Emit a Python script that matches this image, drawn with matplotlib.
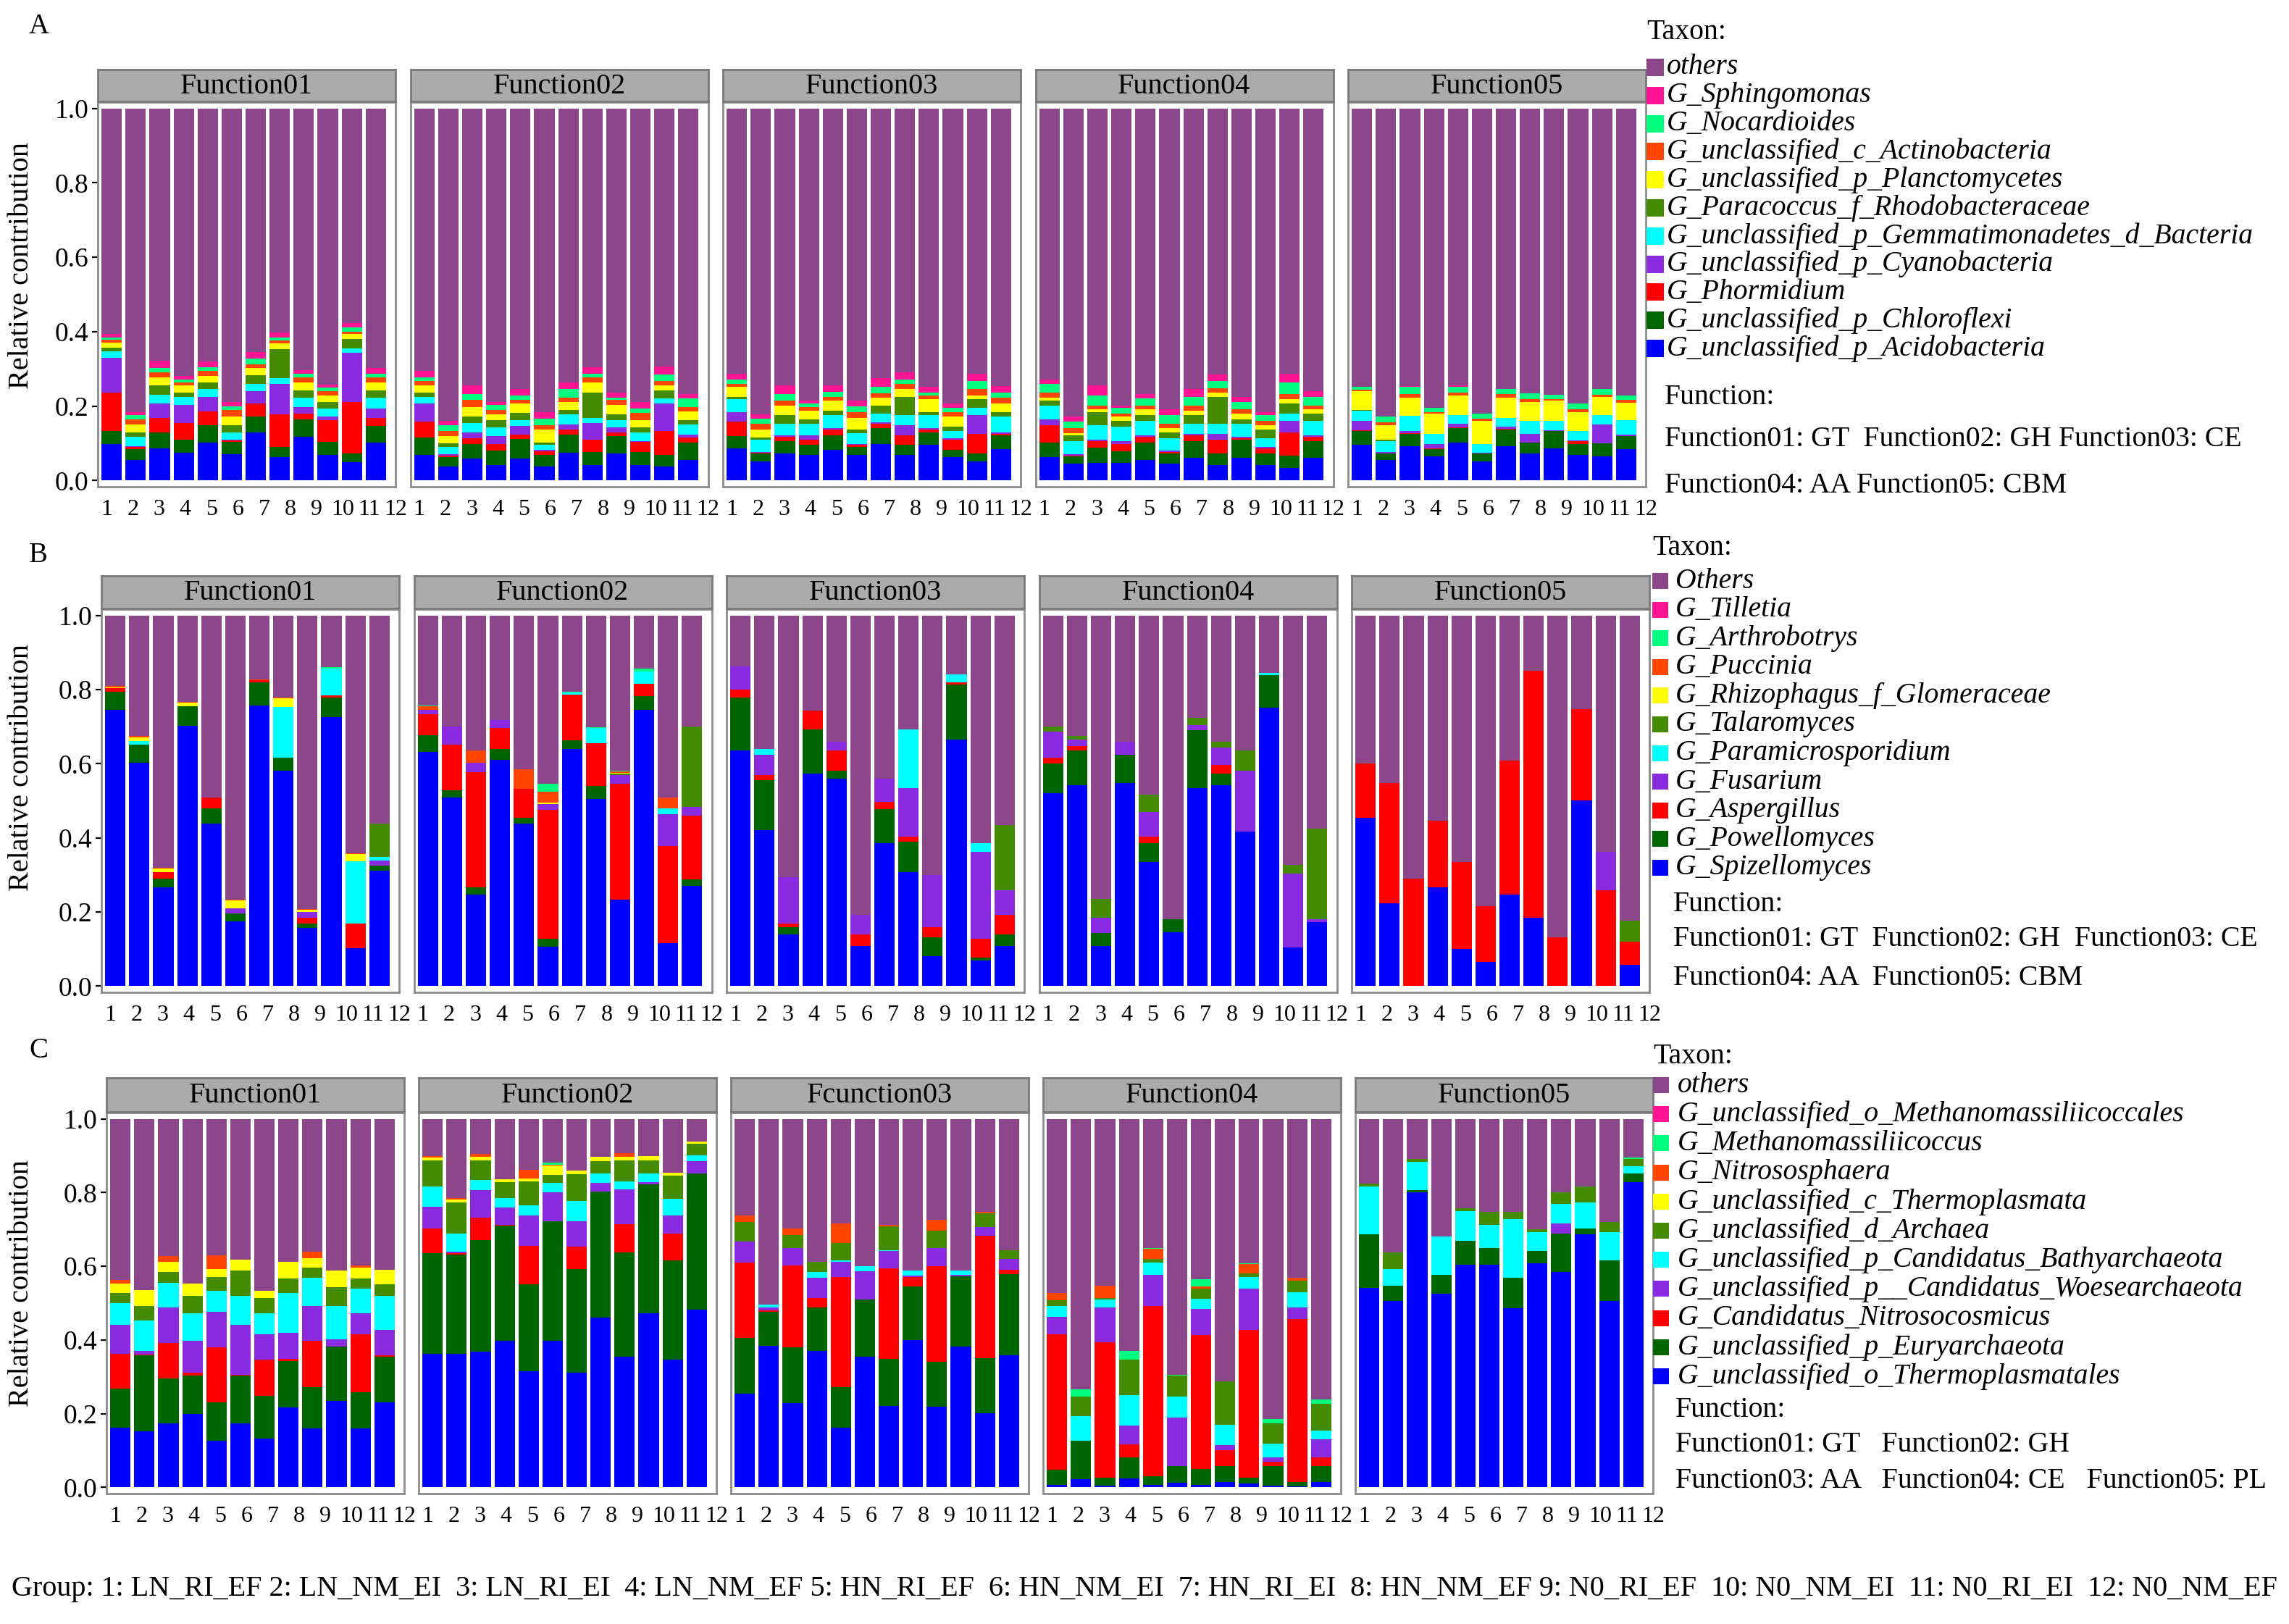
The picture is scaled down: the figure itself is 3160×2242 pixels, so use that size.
import matplotlib
matplotlib.use('Agg')
import matplotlib.pyplot as plt
from matplotlib.patches import Rectangle
import numpy as np

plt.rcParams['font.family'] = ['Liberation Serif', 'DejaVu Serif']

W, H, DPI = 3160, 2242, 200

GROUPS = [str(i) for i in range(1, 13)]

# stacking order bottom -> top (others on top)
COLORS = ['#0000FF', '#006400', '#FF0000', '#8A2BE2', '#00FFFF',
          '#458B00', '#FFFF00', '#FF4500', '#00FF7F', '#FF1493']
OTHERS_COLOR = '#8B4789'

TAXA_A = ['G_unclassified_p_Acidobacteria', 'G_unclassified_p_Chloroflexi', 'G_Phormidium',
          'G_unclassified_p_Cyanobacteria', 'G_unclassified_p_Gemmatimonadetes_d_Bacteria',
          'G_Paracoccus_f_Rhodobacteraceae', 'G_unclassified_p_Planctomycetes',
          'G_unclassified_c_Actinobacteria', 'G_Nocardioides', 'G_Sphingomonas']
OTHERS_A = 'others'
TAXA_B = ['G_Spizellomyces', 'G_Powellomyces', 'G_Aspergillus', 'G_Fusarium',
          'G_Paramicrosporidium', 'G_Talaromyces', 'G_Rhizophagus_f_Glomeraceae',
          'G_Puccinia', 'G_Arthrobotrys', 'G_Tilletia']
OTHERS_B = 'Others'
TAXA_C = ['G_unclassified_o_Thermoplasmatales', 'G_unclassified_p_Euryarchaeota',
          'G_Candidatus_Nitrosocosmicus', 'G_unclassified_p__Candidatus_Woesearchaeota',
          'G_unclassified_p_Candidatus_Bathyarchaeota', 'G_unclassified_d_Archaea',
          'G_unclassified_c_Thermoplasmata', 'G_Nitrososphaera', 'G_Methanomassiliicoccus',
          'G_unclassified_o_Methanomassiliicoccales']
OTHERS_C = 'others'

FACETS_A = ['Function01', 'Function02', 'Function03', 'Function04', 'Function05']
FACETS_B = ['Function01', 'Function02', 'Function03', 'Function04', 'Function05']
FACETS_C = ['Function01', 'Function02', 'Fcunction03', 'Function04', 'Function05']

FUNC_A = ['Function01: GT  Function02: GH Function03: CE', 'Function04: AA Function05: CBM']
FUNC_B = ['Function01: GT  Function02: GH  Function03: CE', 'Function04: AA  Function05: CBM']
FUNC_C = ['Function01: GT   Function02: GH', 'Function03: AA   Function04: CE   Function05: PL']

GROUP_TEXT = ('Group: 1: LN_RI_EF 2: LN_NM_EI  3: LN_RI_EI  4: LN_NM_EF 5: HN_RI_EF  '
              '6: HN_NM_EI  7: HN_RI_EI  8: HN_NM_EF 9: N0_RI_EF  10: N0_NM_EI  '
              '11: N0_RI_EI  12: N0_NM_EF')

# rows = groups 1..12, columns = taxa in stacking order (bottom -> top); remainder = others
A_F01 = [[.098, .035, .104, .093, .018, .009, .013, .009, .006, .009],
         [.055, .030, .005, .003, .025, .012, .020, .015, .011, .008],
         [.087, .042, .039, .039, .024, .024, .022, .013, .013, .019],
         [.075, .035, .045, .048, .021, .013, .018, .008, .009, .009],
         [.101, .047, .037, .039, .022, .017, .018, .013, .010, .016],
         [.070, .033, .004, .003, .019, .019, .024, .018, .010, .011],
         [.129, .043, .035, .033, .019, .024, .020, .010, .014, .019],
         [.063, .027, .087, .082, .016, .078, .015, .009, .008, .013],
         [.118, .047, .014, .018, .026, .019, .021, .015, .009, .009],
         [.068, .035, .060, .009, .022, .017, .018, .011, .010, .007],
         [.049, .023, .139, .133, .011, .026, .013, .006, .011, .012],
         [.101, .045, .022, .026, .029, .019, .021, .015, .009, .016]]
A_F02 = [[.068, .048, .043, .048, .017, .013, .018, .013, .010, .016],
         [.037, .026, .003, .004, .020, .010, .020, .013, .015, .013],
         [.059, .039, .015, .016, .026, .017, .025, .019, .017, .022],
         [.042, .039, .017, .022, .022, .021, .014, .013, .013, .008],
         [.059, .052, .013, .022, .017, .018, .026, .009, .013, .017],
         [.037, .031, .010, .004, .013, .006, .035, .013, .017, .017],
         [.075, .049, .013, .013, .027, .013, .021, .012, .023, .017],
         [.042, .035, .033, .045, .013, .069, .026, .014, .010, .017],
         [.072, .048, .010, .012, .021, .014, .026, .013, .007, .014],
         [.042, .035, .026, .003, .023, .013, .021, .018, .013, .017],
         [.037, .031, .065, .074, .013, .022, .013, .013, .017, .022],
         [.055, .046, .015, .008, .026, .013, .022, .012, .023, .013]]
A_F03 = [[.087, .033, .038, .025, .035, .007, .027, .008, .012, .015],
         [.052, .020, .002, .002, .034, .006, .021, .015, .015, .011],
         [.072, .034, .012, .003, .031, .023, .027, .012, .019, .023],
         [.068, .027, .015, .012, .030, .012, .023, .011, .008, .008],
         [.082, .040, .015, .003, .035, .012, .027, .011, .013, .018],
         [.068, .023, .004, .003, .030, .008, .032, .015, .016, .015],
         [.098, .043, .011, .004, .023, .023, .020, .013, .017, .023],
         [.068, .027, .027, .026, .027, .050, .020, .015, .012, .019],
         [.095, .034, .008, .004, .034, .008, .035, .011, .008, .015],
         [.062, .021, .027, .004, .019, .012, .027, .011, .012, .011],
         [.052, .020, .053, .050, .020, .023, .011, .016, .023, .019],
         [.085, .037, .004, .004, .042, .011, .023, .016, .015, .017]]
A_F04 = [[.062, .040, .046, .016, .038, .012, .008, .015, .023, .012],
         [.045, .019, .003, .003, .035, .016, .007, .013, .018, .013],
         [.048, .041, .017, .004, .038, .035, .008, .011, .027, .026],
         [.048, .031, .019, .008, .039, .015, .012, .007, .016, .007],
         [.056, .046, .016, .004, .038, .015, .016, .011, .019, .012],
         [.045, .027, .004, .004, .034, .015, .012, .011, .023, .016],
         [.060, .046, .016, .004, .026, .023, .012, .015, .023, .020],
         [.041, .031, .038, .015, .027, .073, .012, .011, .020, .017],
         [.060, .050, .004, .004, .034, .012, .015, .012, .019, .015],
         [.041, .031, .015, .004, .023, .023, .011, .012, .015, .008],
         [.033, .033, .063, .031, .019, .027, .012, .015, .031, .023],
         [.060, .046, .012, .004, .038, .019, .012, .011, .023, .016]]
A_F05 = [[.095, .038, .002, .025, .027, .003, .050, .004, .008, .000],
         [.056, .016, .001, .003, .030, .003, .039, .008, .016, .000],
         [.092, .033, .002, .006, .040, .000, .050, .010, .018, .003],
         [.064, .021, .002, .011, .027, .000, .054, .004, .012, .000],
         [.102, .039, .002, .009, .023, .000, .054, .008, .015, .003],
         [.052, .020, .000, .002, .024, .000, .062, .007, .012, .000],
         [.092, .045, .002, .006, .023, .000, .054, .011, .012, .000],
         [.072, .030, .000, .023, .035, .000, .050, .008, .017, .000],
         [.087, .046, .000, .002, .025, .000, .054, .004, .013, .000],
         [.068, .030, .008, .002, .025, .000, .050, .009, .014, .000],
         [.065, .035, .000, .050, .025, .000, .050, .006, .015, .000],
         [.085, .035, .000, .003, .040, .000, .045, .008, .013, .000]]

B_F01 = [[.746, .049, .008, 0, 0, 0, .002, .004, 0, 0],
         [.602, .050, 0, 0, .010, 0, .010, .002, 0, 0],
         [.266, .023, .018, 0, 0, 0, .011, .002, 0, 0],
         [.702, .054, 0, 0, 0, 0, .008, .002, 0, 0],
         [.439, .041, .028, 0, 0, 0, 0, 0, 0, 0],
         [.175, .022, 0, .012, 0, 0, .023, .002, 0, 0],
         [.758, .062, .005, 0, 0, 0, 0, .002, 0, 0],
         [.582, .034, 0, 0, .138, 0, .022, .002, 0, 0],
         [.156, .012, .016, .016, 0, 0, .006, .002, 0, 0],
         [.725, .054, .005, 0, .073, 0, 0, 0, .003, 0],
         [.102, 0, .066, 0, .168, 0, .021, .001, 0, 0],
         [.311, .014, 0, .014, .009, .091, 0, 0, 0, 0]]
B_F02 = [[.631, .045, .058, .012, 0, 0, 0, .009, .003, 0],
         [.508, .021, .123, .049, 0, 0, 0, 0, 0, 0],
         [.246, .020, .312, .024, 0, 0, 0, .033, 0, 0],
         [.611, .028, .058, .020, 0, 0, 0, 0, 0, 0],
         [.439, .016, .078, 0, 0, 0, 0, .053, 0, 0],
         [.107, .020, .348, .017, 0, 0, .004, .029, .020, 0],
         [.639, .025, .123, 0, .006, 0, 0, 0, .002, 0],
         [.504, .037, .115, 0, .041, 0, 0, 0, .002, 0],
         [.234, 0, .311, .025, 0, .003, .003, .003, .003, 0],
         [.746, .037, .033, 0, .032, 0, 0, 0, .008, 0],
         [.115, 0, .262, .086, .017, 0, 0, .028, 0, 0],
         [.270, .017, .172, .025, 0, .217, 0, 0, 0, 0]]
B_F03 = [[.636, .142, .023, .062, 0, 0, 0, 0, 0, 0],
         [.420, .135, .015, .054, .015, 0, 0, 0, 0, 0],
         [.139, .019, .011, .124, 0, 0, 0, 0, 0, 0],
         [.574, .119, .050, 0, 0, 0, 0, 0, 0, 0],
         [.559, .023, .054, .023, 0, 0, 0, 0, 0, 0],
         [.108, 0, .031, .054, 0, 0, 0, 0, 0, 0],
         [.385, .093, .019, .062, 0, 0, 0, 0, 0, 0],
         [.308, .081, .015, .131, .158, 0, 0, 0, 0, 0],
         [.081, .050, .027, .142, 0, 0, 0, 0, 0, 0],
         [.666, .147, .007, 0, .021, 0, 0, 0, 0, 0],
         [.069, .008, .050, .235, .023, 0, 0, 0, 0, 0],
         [.108, .031, .054, .065, 0, .177, 0, 0, 0, 0]]
B_F04 = [[.520, .081, .015, .070, 0, .015, 0, 0, 0, 0],
         [.543, .093, .011, .019, 0, .008, 0, 0, 0, 0],
         [.108, .035, 0, .042, 0, .050, 0, 0, 0, 0],
         [.547, .077, 0, .035, 0, 0, 0, 0, 0, 0],
         [.335, .050, .019, .066, 0, .046, 0, 0, 0, 0],
         [.146, .035, 0, 0, 0, 0, 0, 0, 0, 0],
         [.535, .155, 0, .015, 0, .019, 0, 0, 0, 0],
         [.543, .031, .023, .046, 0, .016, 0, 0, 0, 0],
         [.416, 0, 0, .166, 0, .054, 0, 0, 0, 0],
         [.751, .089, 0, 0, .005, 0, 0, 0, 0, 0],
         [.104, 0, 0, .200, 0, .023, 0, 0, 0, 0],
         [.173, 0, 0, .008, 0, .243, 0, 0, 0, 0]]
B_F05 = [[.455, 0, .146, 0, 0, 0, 0, 0, 0, 0],
         [.223, 0, .324, 0, 0, 0, 0, 0, 0, 0],
         [0, 0, .289, 0, 0, 0, 0, 0, 0, 0],
         [.266, 0, .181, 0, 0, 0, 0, 0, 0, 0],
         [.100, 0, .235, 0, 0, 0, 0, 0, 0, 0],
         [.065, 0, .151, 0, 0, 0, 0, 0, 0, 0],
         [.247, 0, .362, 0, 0, 0, 0, 0, 0, 0],
         [.185, 0, .666, 0, 0, 0, 0, 0, 0, 0],
         [0, 0, .131, 0, 0, 0, 0, 0, 0, 0],
         [.501, 0, .246, 0, 0, 0, 0, 0, 0, 0],
         [0, 0, .258, .104, 0, 0, 0, 0, 0, 0],
         [.058, 0, .061, 0, 0, .058, 0, 0, 0, 0]]

C_F01 = [[.161, .108, .094, .079, .058, .027, .027, .008, 0, 0],
         [.153, .206, .002, .010, .081, .041, .042, 0, 0, 0],
         [.173, .122, .096, .097, .068, .028, .029, .014, 0, 0],
         [.199, .104, .009, .085, .076, .047, .034, 0, 0, 0],
         [.127, .104, .149, .097, .056, .038, .021, .038, 0, 0],
         [.173, .130, .002, .137, .078, .068, .030, 0, 0, 0],
         [.133, .115, .098, .070, .057, .040, .020, 0, 0, 0],
         [.216, .126, .006, .072, .107, .040, .045, 0, 0, 0],
         [.159, .113, .126, .095, .076, .027, .026, .017, 0, 0],
         [.235, .147, 0, .019, .092, .051, .044, 0, 0, 0],
         [.159, .099, .158, .057, .066, .028, .029, .007, 0, 0],
         [.231, .123, .005, .069, .092, .032, .038, 0, 0, 0]]
C_F02 = [[.363, .272, .068, .059, .054, .071, .008, .005, 0, 0],
         [.363, .269, .003, .005, .049, .085, .008, .003, 0, 0],
         [.369, .302, .060, .076, .027, .053, .011, .006, 0, 0],
         [.398, .313, .001, .048, .025, .043, .008, 0, 0, 0],
         [.316, .236, .104, .081, .029, .064, .009, .023, 0, 0],
         [.398, .324, 0, .078, .026, .021, .026, .002, .006, 0],
         [.312, .280, .062, .068, .055, .073, .010, 0, 0, 0],
         [.460, .342, 0, .024, .025, .034, .013, 0, 0, 0],
         [.354, .283, .077, .095, .021, .057, .011, .009, 0, 0],
         [.473, .349, 0, .006, .024, .036, .011, 0, 0, 0],
         [.346, .269, .073, .049, .046, .062, .008, 0, 0, 0],
         [.482, .369, 0, .034, .017, .030, .006, 0, 0, 0]]
C_F03 = [[.254, .151, .206, .056, 0, .054, 0, .016, 0, 0],
         [.385, .092, .003, .008, .009, 0, 0, 0, 0, 0],
         [.228, .153, .222, .046, 0, .036, 0, .017, 0, 0],
         [.370, .119, .024, .056, .016, .028, 0, 0, 0, 0],
         [.162, .109, .300, .042, .002, .048, 0, .054, 0, 0],
         [.354, .155, 0, .078, .014, 0, 0, 0, 0, 0],
         [.220, .128, .247, .046, .003, .065, 0, .003, 0, 0],
         [.399, .146, .026, .004, .014, 0, 0, 0, 0, 0],
         [.218, .122, .261, .048, 0, .048, 0, .029, 0, 0],
         [.383, .190, 0, .004, .012, 0, 0, 0, 0, 0],
         [.202, .149, .332, .024, 0, .037, 0, .003, 0, 0],
         [.359, .220, .012, .028, 0, .024, 0, 0, 0, 0]]
C_F04 = [[.006, .042, .367, .048, .030, .015, 0, .019, 0, 0],
         [.022, .104, 0, 0, .068, .052, 0, 0, .020, 0],
         [.005, .021, .367, .096, .020, .005, 0, .033, 0, 0],
         [.024, .058, .035, .051, .082, .096, 0, 0, .024, 0],
         [.006, .024, .463, .084, .034, .008, 0, .028, .002, 0],
         [.013, .045, 0, .132, .057, .056, 0, 0, .003, 0],
         [.006, .044, .363, .071, .027, .029, 0, .005, .020, 0],
         [.014, .044, .043, .013, .056, .117, 0, 0, 0, 0],
         [.010, .016, .402, .112, .031, .010, 0, .025, .003, 0],
         [.005, .053, .012, .012, .036, .056, 0, 0, .012, 0],
         [.003, .011, .443, .032, .040, .032, 0, .008, 0, 0],
         [.014, .044, .024, .048, .024, .072, 0, 0, .012, 0]]
C_F05 = [[.541, .145, 0, 0, .130, .008, 0, 0, 0, 0],
         [.505, .042, 0, 0, .046, .044, 0, 0, 0, 0],
         [.800, .006, 0, 0, .078, .008, 0, 0, 0, 0],
         [.525, .052, 0, 0, .104, 0, 0, 0, 0, 0],
         [.605, .064, 0, 0, .081, .007, 0, 0, 0, 0],
         [.605, .044, 0, 0, .064, .034, 0, 0, 0, 0],
         [.487, .082, 0, 0, .160, .018, 0, 0, 0, 0],
         [.609, .032, 0, 0, .052, .008, 0, 0, 0, 0],
         [.585, .104, 0, .028, .052, .031, 0, 0, 0, 0],
         [.686, .016, 0, 0, .071, .043, 0, 0, 0, 0],
         [.505, .110, 0, 0, .078, .028, 0, 0, 0, 0],
         [.828, .024, 0, 0, .020, .020, 0, 0, .003, 0]]

fig = plt.figure(figsize=(W / DPI, H / DPI), dpi=DPI)

TICK_FS = 13.5
XTICK_FS = 11.5
STRIP_FS = 14.5
LEG_FS = 14.3
BORDER = '#8C8C8C'
# the reference spreads the group labels slightly wider than the bars
LABEL_POS = np.linspace(0.78, 12.82, 12)


def fx(px):
    return px / W


def fy(py):
    return 1 - py / H


def draw_row(facets, titles, left0, step, width, strip_top, box_top, box_bottom,
             letter, letter_y, ylab_y):
    x = np.arange(1, 13)
    for j, (data, title) in enumerate(zip(facets, titles)):
        left = left0 + j * step
        ax = fig.add_axes([fx(left), fy(box_bottom), width / W, (box_bottom - box_top) / H])
        arr = np.array(data, dtype=float)
        bottom = np.zeros(12)
        for k in range(arr.shape[1]):
            ax.bar(x, arr[:, k], bottom=bottom, width=0.85, color=COLORS[k], linewidth=0)
            bottom = bottom + arr[:, k]
        ax.bar(x, 1 - bottom, bottom=bottom, width=0.85, color=OTHERS_COLOR, linewidth=0)
        ax.set_xlim(0.42, 12.58)
        ax.set_ylim(-0.017, 1.017)
        ax.set_xticks(LABEL_POS)
        ax.set_xticklabels(GROUPS, fontsize=XTICK_FS)
        ax.tick_params(axis='x', length=0, pad=6, colors='black')
        if j == 0:
            ax.set_yticks([0, 0.2, 0.4, 0.6, 0.8, 1.0])
            ax.set_yticklabels(['0.0', '0.2', '0.4', '0.6', '0.8', '1.0'], fontsize=TICK_FS)
            ax.tick_params(axis='y', length=3, width=0.8, pad=1.5)
        else:
            ax.set_yticks([])
        for s in ax.spines.values():
            s.set_color(BORDER)
            s.set_linewidth(1.0)
        # strip
        sax = fig.add_axes([fx(left), fy(box_top - 1), width / W, (box_top - 1 - strip_top) / H])
        sax.set_facecolor('#ABABAB')
        sax.set_xticks([])
        sax.set_yticks([])
        for s in sax.spines.values():
            s.set_color('#7A7A7A')
            s.set_linewidth(1.0)
        sax.text(0.5, 0.47, title, ha='center', va='center', fontsize=STRIP_FS,
                 transform=sax.transAxes)
    fig.text(fx(30), fy(ylab_y), 'Relative contribution', rotation=90,
             ha='center', va='center', fontsize=14.5)
    fig.text(fx(40), fy(letter_y), letter, ha='left', va='center', fontsize=14)


def draw_legend(x_key, key_w, key_h, y_title, y_first, spacing, text_x, names, func_lines,
                y_func, y_l1, y_l2):
    fig.text(fx(x_key), fy(y_title), 'Taxon:', ha='left', va='center', fontsize=LEG_FS)
    cols = [OTHERS_COLOR] + COLORS[::-1]
    for i, (name, col) in enumerate(zip(names, cols)):
        yc = y_first + i * spacing
        fig.patches.append(Rectangle((fx(x_key), fy(yc + key_h / 2)), key_w / W, key_h / H,
                                     transform=fig.transFigure, facecolor=col,
                                     edgecolor='none'))
        fig.text(fx(text_x), fy(yc), name, ha='left', va='center', fontsize=LEG_FS,
                 style='italic')
    fig.text(fx(text_x - 3), fy(y_func), 'Function:', ha='left', va='center', fontsize=LEG_FS)
    fig.text(fx(text_x - 3), fy(y_l1), func_lines[0], ha='left', va='center', fontsize=LEG_FS)
    fig.text(fx(text_x - 3), fy(y_l2), func_lines[1], ha='left', va='center', fontsize=LEG_FS)


draw_row([A_F01, A_F02, A_F03, A_F04, A_F05], FACETS_A, 135, 431.5, 411, 96, 141, 672,
         'A', 36, 366)
draw_row([B_F01, B_F02, B_F03, B_F04, B_F05], FACETS_B, 140, 431.5, 411, 795, 841, 1370,
         'B', 766, 1059)
draw_row([C_F01, C_F02, C_F03, C_F04, C_F05], FACETS_C, 147, 431, 411, 1488, 1536, 2062,
         'C', 1451, 1772)

draw_legend(2273, 24, 24, 45, 93, 38.8, 2301, [OTHERS_A] + TAXA_A[::-1], FUNC_A, 549, 607, 670)
draw_legend(2281, 22, 22, 756, 802, 39.6, 2313, [OTHERS_B] + TAXA_B[::-1], FUNC_B, 1248, 1297, 1351)
draw_legend(2282, 22, 22, 1459, 1498, 40.2, 2316, [OTHERS_C] + TAXA_C[::-1], FUNC_C, 1947, 1995, 2044)

# group line fitted to the reference width
gt = fig.text(fx(16), fy(2194), GROUP_TEXT, ha='left', va='center', fontsize=14)
fig.canvas.draw()
ext = gt.get_window_extent(renderer=fig.canvas.get_renderer())
target = 3128
gt.set_fontsize(14 * target / ext.width)

fig.savefig('out.png', dpi=DPI)
